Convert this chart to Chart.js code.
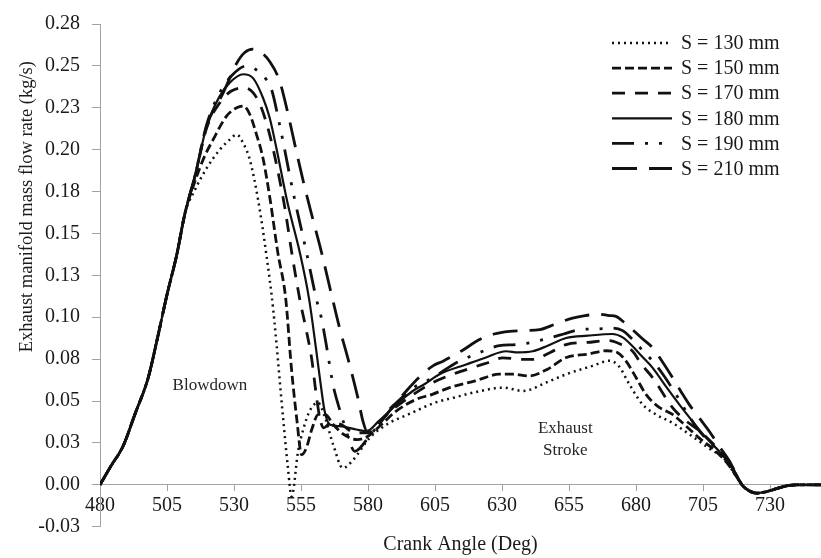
<!DOCTYPE html>
<html>
<head>
<meta charset="utf-8">
<script src="https://cdn.jsdelivr.net/npm/chart.js@4.4.0/dist/chart.umd.min.js"></script>
<style>
  html, body { margin: 0; padding: 0; background: #fff; }
  #wrap { width: 821px; height: 558px; }
</style>
</head>
<body>
<div id="wrap"><canvas id="flowChart"></canvas></div>
<script>
// axis ticks
const yTickValues = [-0.025, 0, 0.025, 0.05, 0.075, 0.1, 0.125, 0.15, 0.175, 0.2, 0.225, 0.25, 0.275];
const yTickLabels = ["-0.03", "0.00", "0.03", "0.05", "0.08", "0.10", "0.13", "0.15", "0.18", "0.20", "0.23", "0.25", "0.28"];
const xTickValues = [480, 505, 530, 555, 580, 605, 630, 655, 680, 705, 730];
const xTickLabels = ["480", "505", "530", "555", "580", "605", "630", "655", "680", "705", "730"];

// shared start (blowdown rise) and end (dip below zero) for every stroke
const riseAngle = [480, 484, 488.7, 493, 498, 501.5, 505, 508.6, 511.7];
const riseFlow = [0, 0.011, 0.0234, 0.042, 0.064, 0.088, 0.1135, 0.137, 0.162];
const tailAngle = [721, 723, 725, 728, 731, 734, 737, 740, 749];
const tailFlow = [-0.0023, -0.0042, -0.005, -0.0043, -0.003, -0.0015, -0.0004, 0, 0];

// S = 130 mm
const s130Angle = [515.4, 519.8, 524.7, 528.4, 531, 533.4, 535.9, 539, 542.1, 544.6, 548.3, 550, 551.5, 553.9, 556, 558.2, 561.3, 564, 567, 570.6, 574, 580.6, 588, 595, 605, 612, 622, 630.3, 638, 646.4, 654, 663.8, 670, 673.5, 677.5, 682.4, 687.4, 693.5, 700.9, 707, 713.5, 716.5, 719.5];
const s130Flow = [0.176, 0.189, 0.200, 0.206, 0.209, 0.204, 0.194, 0.170, 0.137, 0.105, 0.040, 0.012, -0.007, 0.020, 0.034, 0.044, 0.049, 0.040, 0.024, 0.010, 0.014, 0.028, 0.037, 0.042, 0.049, 0.052, 0.056, 0.058, 0.056, 0.061, 0.066, 0.071, 0.074, 0.071, 0.060, 0.048, 0.042, 0.037, 0.029, 0.022, 0.0145, 0.007, 0];

// S = 150 mm
const s150Angle = [515.4, 519, 522.2, 527.2, 531, 533.5, 535.9, 538.4, 540.8, 543.5, 546.3, 549.3, 551.4, 553.5, 555.2, 557, 559, 561.5, 564, 567, 571, 576, 580, 585, 590.5, 598, 604, 610.4, 620, 629, 634, 640.2, 647, 654, 662, 669, 673, 676.2, 680, 683.7, 688, 693.6, 698, 703.5, 709, 714, 717, 719.5];
const s150Flow = [0.181, 0.196, 0.206, 0.220, 0.225, 0.226, 0.221, 0.209, 0.195, 0.170, 0.139, 0.111, 0.070, 0.038, 0.018, 0.022, 0.033, 0.042, 0.042, 0.036, 0.030, 0.027, 0.029, 0.036, 0.044, 0.051, 0.054, 0.058, 0.062, 0.066, 0.066, 0.065, 0.069, 0.076, 0.078, 0.080, 0.079, 0.074, 0.064, 0.054, 0.047, 0.042, 0.036, 0.028, 0.021, 0.013, 0.006, 0];

// S = 170 mm
const s170Angle = [515.4, 519.8, 524.7, 529, 534, 537.1, 540.2, 543.3, 546, 549, 551.5, 554.5, 557, 559, 560.5, 562, 563.5, 566, 570, 575, 580, 585, 590, 597, 604.2, 610, 619.1, 625, 630.3, 636, 641.4, 648, 653.9, 662, 670, 674, 678.7, 682, 686.2, 693.6, 698, 703.5, 709, 714, 717, 719.5];
const s170Flow = [0.184, 0.213, 0.228, 0.235, 0.237, 0.234, 0.225, 0.209, 0.190, 0.165, 0.139, 0.111, 0.092, 0.075, 0.056, 0.040, 0.034, 0.037, 0.036, 0.031, 0.031, 0.039, 0.046, 0.054, 0.061, 0.065, 0.070, 0.073, 0.0758, 0.075, 0.0748, 0.079, 0.0837, 0.085, 0.086, 0.084, 0.0797, 0.072, 0.0639, 0.0461, 0.039, 0.0323, 0.024, 0.015, 0.007, 0];

// S = 180 mm
const s180Angle = [515.4, 519.8, 524.7, 528.4, 533.4, 537.1, 540.8, 543.3, 545.8, 550, 554.5, 558, 560.7, 562.5, 563.8, 565.7, 569.4, 575.6, 579.4, 584, 588, 592, 596.7, 601, 606.7, 616.6, 624, 631.5, 636, 641.4, 647, 653.9, 662, 671.2, 675, 678.7, 682, 686.2, 691, 696.1, 701, 706, 711, 715, 719.5];
const s180Flow = [0.184, 0.214, 0.232, 0.240, 0.245, 0.2427, 0.231, 0.219, 0.201, 0.168, 0.139, 0.111, 0.080, 0.058, 0.044, 0.036, 0.035, 0.033, 0.032, 0.038, 0.044, 0.050, 0.056, 0.060, 0.066, 0.0718, 0.076, 0.0797, 0.079, 0.0797, 0.083, 0.0876, 0.089, 0.090, 0.088, 0.0827, 0.077, 0.0698, 0.059, 0.048, 0.038, 0.0283, 0.020, 0.012, 0];

// S = 190 mm
const s190Angle = [515.4, 519.8, 524.7, 529, 534.7, 538, 542.1, 544, 547, 548.4, 552, 557, 560.7, 562.6, 564.8, 566.9, 569.4, 571.9, 573.5, 575, 577, 580, 584, 588, 592, 596, 604.2, 612, 622.8, 629, 635.2, 641, 647.7, 653, 658.8, 665, 671.2, 675, 678.7, 682, 686.2, 690, 694.9, 699, 703.5, 709, 714, 717, 719.5];
const s190Flow = [0.184, 0.215, 0.234, 0.244, 0.250, 0.248, 0.2417, 0.236, 0.215, 0.204, 0.175, 0.139, 0.111, 0.0995, 0.080, 0.060, 0.045, 0.032, 0.024, 0.020, 0.022, 0.028, 0.036, 0.045, 0.051, 0.057, 0.0639, 0.072, 0.0797, 0.083, 0.0837, 0.085, 0.0876, 0.090, 0.0926, 0.093, 0.0935, 0.092, 0.0867, 0.081, 0.0738, 0.066, 0.054, 0.043, 0.0323, 0.023, 0.015, 0.007, 0];

// S = 210 mm
const s210Angle = [515.4, 519.8, 526, 531, 534, 537, 539.6, 543.3, 547, 550.2, 552.7, 556, 559.5, 562.6, 566.3, 569.4, 573.1, 576.2, 578.1, 579.6, 581.5, 584, 586, 590, 594.3, 599, 604.2, 608, 615, 621.6, 627, 632.8, 638, 644, 650, 656.3, 661, 666.3, 670, 672.5, 675.5, 678.7, 682.5, 686.2, 690, 693.6, 697, 699.8, 704, 707.3, 711, 714.7, 717.5, 719.5];
const s210Flow = [0.184, 0.214, 0.234, 0.2516, 0.258, 0.260, 0.2586, 0.2526, 0.241, 0.221, 0.203, 0.180, 0.158, 0.139, 0.114, 0.0935, 0.0718, 0.052, 0.038, 0.032, 0.032, 0.036, 0.040, 0.048, 0.056, 0.064, 0.071, 0.0738, 0.080, 0.0867, 0.090, 0.0916, 0.092, 0.0926, 0.096, 0.0995, 0.101, 0.1018, 0.101, 0.1005, 0.097, 0.0926, 0.087, 0.0817, 0.073, 0.064, 0.055, 0.048, 0.039, 0.032, 0.023, 0.0145, 0.006, 0];

// text notes inside the plot
const noteText = ["Blowdown", "Exhaust", "Stroke"];
const noteAngle = [521, 653.6, 653.6];
const noteFlow = [0.059, 0.0335, 0.0205];

const ink = "#111111";
const axisGrey = "#a3a3a3";
const serif = "'Liberation Serif', 'Times New Roman', serif";

function toPoints(angles, flows) {
  const xs = riseAngle.concat(angles, tailAngle);
  const ys = riseFlow.concat(flows, tailFlow);
  return xs.map((x, i) => ({ x: x, y: ys[i] }));
}

function stroke(label, angles, flows, width, dash) {
  return {
    label: label,
    data: toPoints(angles, flows),
    borderColor: ink,
    borderWidth: width,
    borderDash: dash,
    borderCapStyle: "butt",
    pointRadius: 0,
    fill: false,
    cubicInterpolationMode: "monotone",
  };
}

const flowData = {
  datasets: [
    stroke("S = 130 mm", s130Angle, s130Flow, 2.5, [2, 4]),
    stroke("S = 150 mm", s150Angle, s150Flow, 2.8, [9, 4]),
    stroke("S = 170 mm", s170Angle, s170Flow, 2.8, [13, 10]),
    stroke("S = 180 mm", s180Angle, s180Flow, 2.2, []),
    stroke("S = 190 mm", s190Angle, s190Flow, 2.8, [22, 11, 3, 11, 3, 11]),
    stroke("S = 210 mm", s210Angle, s210Flow, 2.8, [25, 12]),
  ],
};

// legend drawn inside the plot, top right
const lineLegend = {
  id: "lineLegend",
  afterDraw(chart) {
    const ctx = chart.ctx;
    ctx.save();
    ctx.font = "20px " + serif;
    ctx.textBaseline = "middle";
    chart.data.datasets.forEach((ds, i) => {
      const y = 43 + i * 25.1;
      ctx.strokeStyle = ds.borderColor;
      ctx.lineWidth = ds.borderWidth;
      ctx.lineCap = "butt";
      ctx.setLineDash(ds.borderDash);
      ctx.beginPath();
      ctx.moveTo(612, y);
      ctx.lineTo(672, y);
      ctx.stroke();
      ctx.setLineDash([]);
      ctx.fillStyle = "#1a1a1a";
      ctx.fillText(ds.label, 681, y + 1);
    });
    ctx.restore();
  },
};

const notesAndTitle = {
  id: "notesAndTitle",
  afterDraw(chart) {
    const ctx = chart.ctx;
    const xs = chart.scales.x;
    const ys = chart.scales.y;
    ctx.save();
    ctx.fillStyle = "#262626";
    ctx.font = "17px " + serif;
    ctx.textAlign = "center";
    ctx.textBaseline = "middle";
    noteText.forEach((t, i) => {
      ctx.fillText(t, xs.getPixelForValue(noteAngle[i]), ys.getPixelForValue(noteFlow[i]));
    });
    // y axis title sits above the vertical centre in the original
    ctx.translate(26.7, 206.7);
    ctx.rotate(-Math.PI / 2);
    ctx.font = "18.5px " + serif;
    ctx.fillStyle = "#1a1a1a";
    ctx.fillText("Exhaust manifold mass flow rate (kg/s)", 0, 0);
    ctx.restore();
  },
};

const flowOptions = {
  responsive: true,
  maintainAspectRatio: false,
  animation: false,
  layout: { padding: { left: 0, right: 0, top: 21.7, bottom: 31.3 } },
  plugins: {
    legend: { display: false },
    tooltip: { enabled: false },
  },
  scales: {
    x: {
      type: "linear",
      position: { y: 0 },
      min: 480,
      max: 749,
      afterBuildTicks: function (scale) {
        scale.ticks = xTickValues.map((v) => ({ value: v }));
      },
      grid: { drawOnChartArea: false, drawTicks: true, tickLength: 6, color: axisGrey },
      border: { color: axisGrey, width: 1 },
      ticks: {
        maxRotation: 0,
        autoSkip: false,
        padding: 3,
        color: "#1a1a1a",
        font: { family: serif, size: 20 },
        callback: function (val) {
          const i = xTickValues.indexOf(val);
          return i < 0 ? "" : xTickLabels[i];
        },
      },
      title: {
        display: true,
        text: "Crank Angle (Deg)",
        color: "#1a1a1a",
        font: { family: serif, size: 20 },
        padding: { top: 12, bottom: 0 },
      },
    },
    y: {
      type: "linear",
      position: "left",
      min: -0.025,
      max: 0.275,
      afterFit: function (scale) {
        scale.width = 100;
      },
      grid: { drawOnChartArea: false, drawTicks: true, tickLength: 8, color: axisGrey },
      border: { color: axisGrey, width: 1 },
      ticks: {
        stepSize: 0.025,
        includeBounds: false,
        padding: 12,
        color: "#1a1a1a",
        font: { family: serif, size: 20 },
        callback: function (val) {
          const i = yTickValues.findIndex((v) => Math.abs(v - val) < 1e-6);
          return i < 0 ? "" : yTickLabels[i];
        },
      },
    },
  },
};

const flowCTX = new Chart(document.getElementById("flowChart"), {
  type: "line",
  data: flowData,
  options: flowOptions,
  plugins: [lineLegend, notesAndTitle],
});
</script>
</body>
</html>
